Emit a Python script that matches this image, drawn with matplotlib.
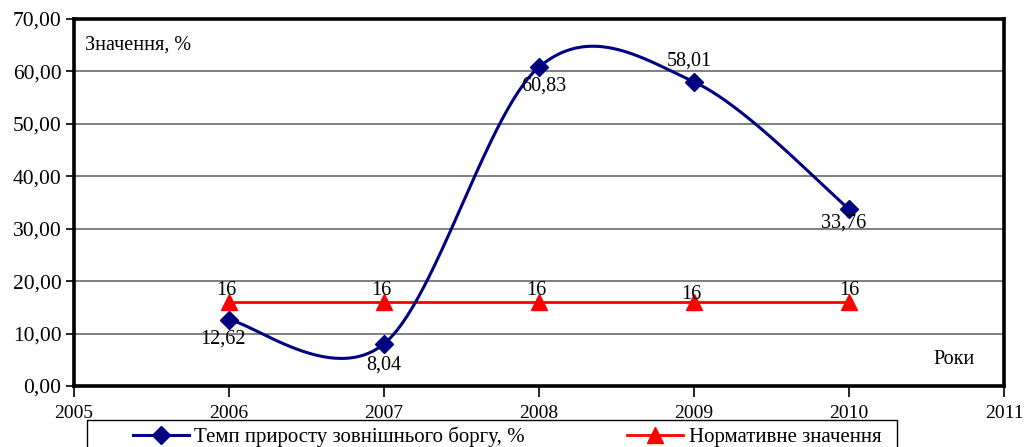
import numpy as np
import matplotlib
matplotlib.use("Agg")
import matplotlib.pyplot as plt
from matplotlib.lines import Line2D
from matplotlib.patches import Rectangle

plt.rcParams['font.family'] = ['Liberation Serif', 'DejaVu Serif']

years = [2006, 2007, 2008, 2009, 2010]
debt_growth = [12.62, 8.04, 60.83, 58.01, 33.76]
norm_value = [16, 16, 16, 16, 16]
debt_labels = ["12,62", "8,04", "60,83", "58,01", "33,76"]
norm_labels = ["16", "16", "16", "16", "16"]
x_ticks = [2005, 2006, 2007, 2008, 2009, 2010, 2011]
y_ticks = [0, 10, 20, 30, 40, 50, 60, 70]
series_names = ["Темп приросту зовнішнього боргу, %", "Нормативне значення"]

BLUE = "#000080"
RED = "#FF0000"
W, H = 1025, 447


def smooth_curve(xs, ys, n=60):
    """Cubic Bezier smoothing through every point (spreadsheet-style smoothed line)."""
    xs = np.asarray(xs, float)
    ys = np.asarray(ys, float)
    px = np.concatenate([[xs[0]], xs, [xs[-1]]])
    py = np.concatenate([[ys[0]], ys, [ys[-1]]])
    out_x, out_y = [], []
    t = np.linspace(0, 1, n)
    for i in range(1, len(px) - 2):
        p0 = np.array([px[i], py[i]])
        p3 = np.array([px[i + 1], py[i + 1]])
        c1 = p0 + (np.array([px[i + 1], py[i + 1]]) - np.array([px[i - 1], py[i - 1]])) / 6
        c2 = p3 - (np.array([px[i + 2], py[i + 2]]) - np.array([px[i], py[i]])) / 6
        b = ((1 - t) ** 3)[:, None] * p0 + (3 * (1 - t) ** 2 * t)[:, None] * c1 \
            + (3 * (1 - t) * t ** 2)[:, None] * c2 + (t ** 3)[:, None] * p3
        out_x.extend(b[:, 0])
        out_y.extend(b[:, 1])
    return np.array(out_x), np.array(out_y)


fig = plt.figure(figsize=(W / 100, H / 100), dpi=100)
ax = fig.add_axes([74 / W, 1 - 386 / H, (1004 - 74) / W, (386 - 19) / H])

ax.set_xlim(2005, 2011)
ax.set_ylim(0, 70)
ax.set_xticks(x_ticks)
ax.set_xticklabels([str(v) for v in x_ticks], fontsize=14)
ax.set_yticks(y_ticks)
ax.set_yticklabels([f"{v:.2f}".replace(".", ",") for v in y_ticks], fontsize=15.5)
ax.tick_params(axis='both', width=1.2, color='black')
ax.tick_params(axis='x', length=8, pad=6, direction='out')
ax.tick_params(axis='y', length=6, pad=3, direction='out')

for s in ax.spines.values():
    s.set_linewidth(2.6)
    s.set_color('black')

ax.yaxis.grid(True, color='#7f7f7f', linewidth=1.4)
ax.set_axisbelow(True)

# normative level
ax.plot(years, norm_value, color=RED, linewidth=2, marker='^', markersize=12,
        markeredgecolor=RED, markerfacecolor=RED, zorder=3)

# debt growth rate, smoothed
sx, sy = smooth_curve(years, debt_growth)
ax.plot(sx, sy, color=BLUE, linewidth=2.2, zorder=4)
ax.plot(years, debt_growth, linestyle='none', marker='D', markersize=9.5,
        markerfacecolor=BLUE, markeredgecolor=BLUE, zorder=5)

debt_offsets = [(-6, -19), (0, -21), (5, -19), (-5, 21), (-5, -14)]
for x, y, lab, off in zip(years, debt_growth, debt_labels, debt_offsets):
    ax.annotate(lab, (x, y), xytext=off, textcoords='offset pixels',
                ha='center', va='center', fontsize=14.5, zorder=6)

norm_offsets = [(-3, 12), (-3, 12), (-3, 12), (-3, 8), (0, 12)]
for x, y, lab, off in zip(years, norm_value, norm_labels, norm_offsets):
    ax.annotate(lab, (x, y), xytext=off, textcoords='offset pixels',
                ha='center', va='center', fontsize=14.5, zorder=6)

fig.text(85 / W, 1 - 45 / H, "Значення, %", fontsize=14.5, ha='left', va='center')
fig.text(975 / W, 1 - 360 / H, "Роки", fontsize=14.5, ha='right', va='center')

# legend box
fig.patches.append(Rectangle((87 / W, -0.05), (897 - 87) / W, (1 - 420 / H) + 0.05,
                             transform=fig.transFigure, facecolor='white',
                             edgecolor='black', linewidth=1.0))

handles = [
    Line2D([], [], color=BLUE, linewidth=2.2, marker='D', markersize=9.5),
    Line2D([], [], color=RED, linewidth=2, marker='^', markersize=12),
]
leg = fig.legend(handles, series_names, loc='center left',
                 bbox_to_anchor=(133 / W, 1 - 437 / H),
                 bbox_transform=fig.transFigure, ncol=2,
                 fontsize=15, frameon=False, handlelength=2.7,
                 handletextpad=0.25, borderpad=0, borderaxespad=0,
                 columnspacing=4.9)

fig.savefig("out.png", dpi=100)
